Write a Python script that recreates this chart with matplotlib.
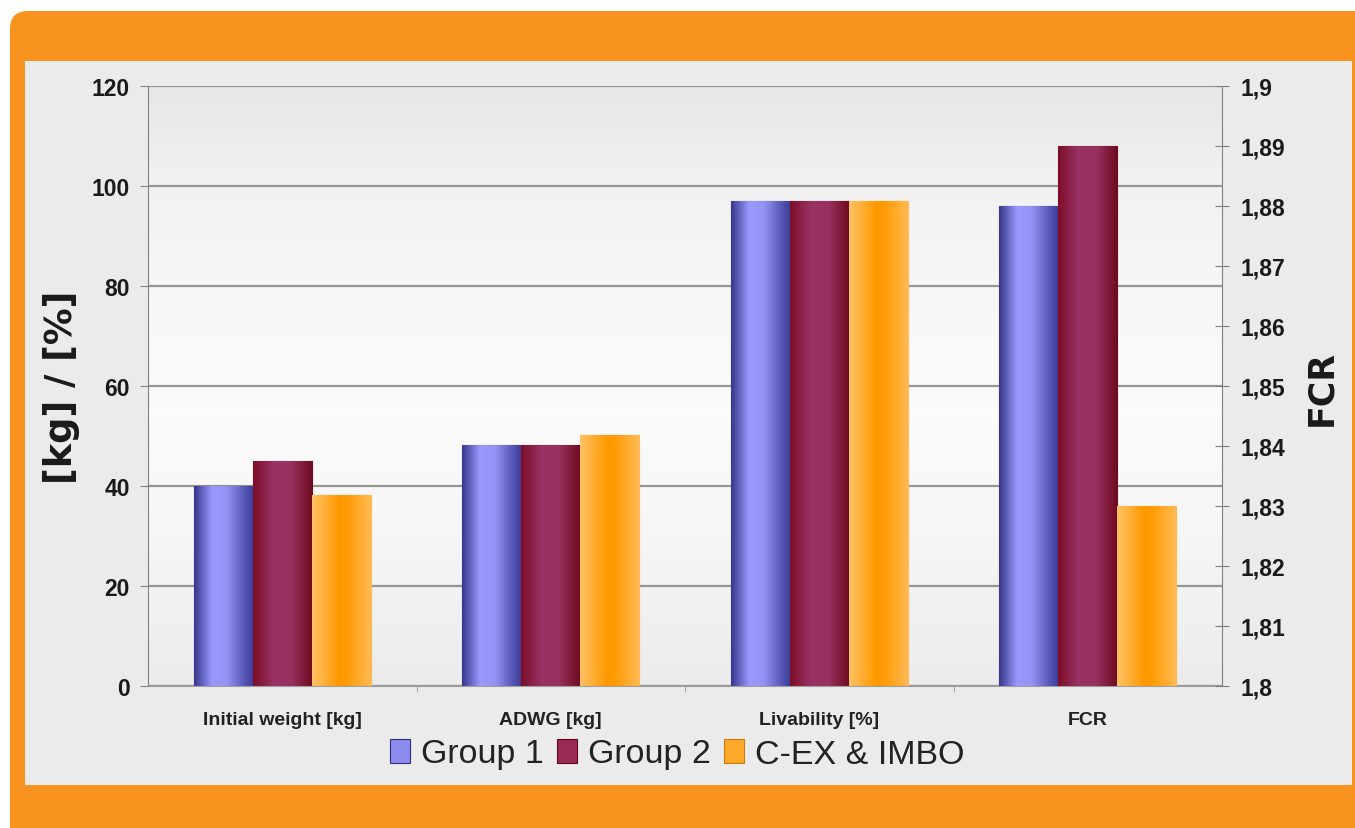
import numpy as np
import matplotlib.pyplot as plt
from matplotlib.patches import FancyBboxPatch, Rectangle, Patch
from matplotlib.colors import to_rgb

categories = ['Initial weight [kg]', 'ADWG [kg]', 'Livability [%]', 'FCR']
groups = ['Group 1', 'Group 2', 'C-EX & IMBO']

# left axis values ([kg] / [%]) for the first three categories
group1 = [40, 48.2, 97]
group2 = [45, 48.2, 97]
cex_imbo = [38.2, 50.2, 97]
# right axis values (FCR), one per group
fcr = [1.88, 1.89, 1.83]

left_ticks = [0, 20, 40, 60, 80, 100, 120]
fcr_ticks = [1.80, 1.81, 1.82, 1.83, 1.84, 1.85, 1.86, 1.87, 1.88, 1.89, 1.90]
fcr_labels = ['1,8', '1,81', '1,82', '1,83', '1,84', '1,85', '1,86', '1,87', '1,88', '1,89', '1,9']

# horizontal shading of the bars (stops across the bar width)
shades = [
    ([0, 0.3, 0.55, 0.85, 1], ['#38388c', '#9999ff', '#9494f4', '#5656b4', '#3c3c98']),
    ([0, 0.35, 0.65, 1], ['#7c0e28', '#993366', '#97305f', '#6e0a1e']),
    ([0, 0.45, 0.6, 1], ['#ffc266', '#ff9900', '#ff9c08', '#ffbb55']),
]
edges = ['#30307a', '#5e0818', '#c87a10']
legend_colors = ['#8c8cf0', '#9a2a55', '#ffa82a']

plt.rcParams['font.family'] = ['Liberation Sans', 'DejaVu Sans']

fig = plt.figure(figsize=(13.55, 8.29), dpi=100)

# orange frame + grey panel, in pixel units
bg = fig.add_axes([0, 0, 1, 1])
bg.set_xlim(0, 1355)
bg.set_ylim(829, 0)
bg.axis('off')
bg.add_patch(FancyBboxPatch((10, 12), 1400, 840, boxstyle='round,pad=0,rounding_size=18',
                            fc='#f7931e', ec='none'))
bg.add_patch(Rectangle((25, 62), 1327, 724, fc='#ebebeb', ec='none'))

ax = fig.add_axes([148 / 1355, 142 / 829, 1074 / 1355, 600 / 829])
ax2 = ax.twinx()

# plot area background gradient (vertical)
ypos = np.linspace(0, 1, 200)
grey = np.interp(ypos, [0, 0.25, 0.45, 0.6, 0.85, 1], [0.925, 0.965, 0.985, 0.975, 0.945, 0.905])
ax.imshow(np.repeat(grey[:, None, None], 3, axis=2), extent=(0, 1, 0, 1), origin='lower',
          transform=ax.transAxes, aspect='auto', zorder=0, interpolation='bilinear')


def shade(axis, bars, stops, colors):
    pos = np.linspace(0, 1, 64)
    rgb = np.array([to_rgb(c) for c in colors])
    grad = np.stack([np.interp(pos, stops, rgb[:, k]) for k in range(3)], axis=-1)[None, :, :]
    for b in bars:
        im = axis.imshow(grad, extent=(b.get_x(), b.get_x() + b.get_width(),
                                       b.get_y(), b.get_y() + b.get_height()),
                         aspect='auto', zorder=2.1, interpolation='bilinear')
        im.set_clip_path(b)


x = np.arange(len(categories))
w = 0.22
fcr_base = fcr_ticks[0]
for i, vals in enumerate([group1, group2, cex_imbo]):
    stops, cols = shades[i]
    b1 = ax.bar(x[:3] + (i - 1) * w, vals, w, color=cols[1], edgecolor=edges[i], lw=0.8, zorder=2)
    b2 = ax2.bar(x[3] + (i - 1) * w, fcr[i] - fcr_base, w, bottom=fcr_base,
                 color=cols[1], edgecolor=edges[i], lw=0.8, zorder=2)
    shade(ax, b1, stops, cols)
    shade(ax2, b2, stops, cols)

ax.set_xlim(-0.5, 3.5)
ax.set_ylim(0, 120)
ax2.set_ylim(1.8, 1.9)
ax2.set_xlim(-0.5, 3.5)

ax.set_axisbelow(True)
ax.yaxis.grid(True, color='#969696', lw=1.6)
ax.set_yticks(left_ticks, labels=[str(t) for t in left_ticks], fontsize=16.5, fontweight='bold')
ax.tick_params(axis='y', direction='out', length=6, color='#808080', pad=7, labelcolor='#1a1a1a')
ax.set_xticks(x, labels=categories, fontsize=14, fontweight='bold')
ax.tick_params(axis='x', length=0, pad=18, labelcolor='#222222')
ax.set_xticks([0.5, 1.5, 2.5], minor=True)
ax.tick_params(axis='x', which='minor', length=4, color='#999999')

ax2.set_yticks(fcr_ticks, labels=fcr_labels, fontsize=16.5, fontweight='bold')
ax2.tick_params(axis='y', direction='inout', length=10, color='#808080', pad=8, labelcolor='#1a1a1a')

for s in ['top', 'right']:
    ax.spines[s].set_visible(False)
for s in ['top', 'left', 'bottom']:
    ax2.spines[s].set_visible(False)
ax.spines['left'].set_color('#808080')
ax.spines['bottom'].set_color('#a0a0a0')
ax2.spines['right'].set_color('#808080')

fig.text(61 / 1355, 1 - 387 / 829, '[kg] / [%]', rotation=90, ha='center', va='center',
         fontsize=26.5, fontweight='bold', family='DejaVu Sans', color='#1a1a1a')
fig.text(1321 / 1355, 1 - 388 / 829, 'FCR', rotation=90, ha='center', va='center',
         fontsize=25, fontweight='bold', family='DejaVu Sans', color='#1a1a1a')

handles = [Patch(facecolor=c, edgecolor=e, lw=0.8) for c, e in zip(legend_colors, edges)]
fig.legend(handles, groups, loc='center', bbox_to_anchor=(677 / 1355, 1 - 755 / 829), ncol=3,
           frameon=False, fontsize=24.5, handlelength=0.6, handleheight=0.7,
           handletextpad=0.3, columnspacing=0.4, labelcolor='#222222')

fig.savefig('out.png', dpi=100)
